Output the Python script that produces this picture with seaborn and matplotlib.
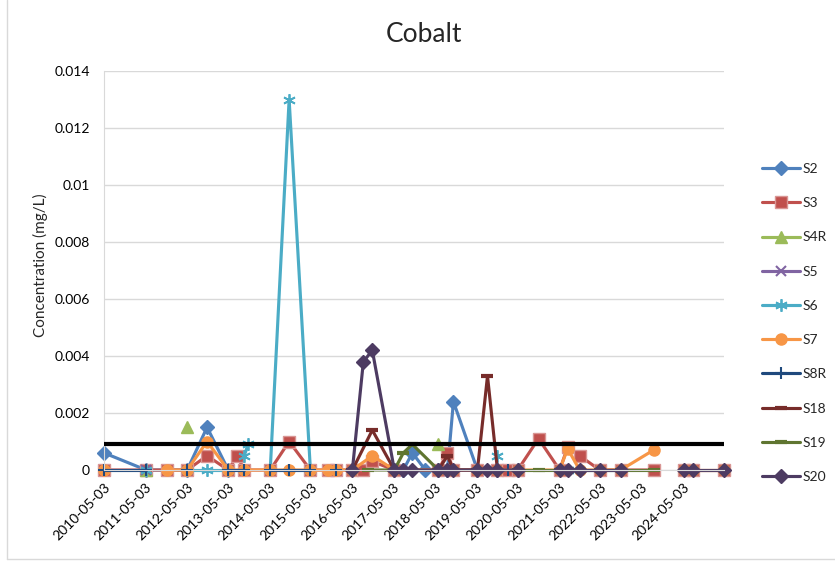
import matplotlib
matplotlib.use("Agg")
import matplotlib.pyplot as plt
import matplotlib.dates as mdates
from matplotlib.lines import Line2D
from matplotlib.ticker import FuncFormatter
import seaborn as sns
import pandas as pd
import numpy as np

# cobalt results (mg/L) per station; a None entry breaks the line (gap in the sheet)
s2_dates = ['2010-05-03', '2011-05-10', '2012-05-07', '2012-10-30', '2013-05-05', None,
            '2017-05-12', '2017-07-30', '2017-10-18', '2018-02-10', '2018-06-05', '2018-08-24',
            '2018-10-16', '2019-05-16', '2019-11-09', '2020-05-06']
s2_conc = [0.0006, 0, 0, 0.0015, 0, None, 0, 0, 0.0006, 0, 0, 0, 0.0024, 0, 0, 0]

s3_dates = ['2010-05-03', '2011-05-10', '2011-11-10', '2012-05-07', '2012-10-30', '2013-05-05',
            '2013-07-23', '2013-09-23', '2014-05-11', '2014-10-25', '2015-05-01', '2015-10-06',
            '2015-12-15', '2016-05-06', '2016-08-11', '2016-10-29', '2017-05-12', '2018-06-05',
            '2018-08-24', '2018-10-16', '2019-05-16', '2019-11-09', '2020-02-14', '2020-05-06',
            '2020-11-06', '2021-05-12', '2021-07-21', '2021-11-04', '2022-05-01', '2022-11-02',
            '2023-08-20', None, '2024-05-14', '2024-08-01', '2025-05-03']
s3_conc = [0, 0, 0, 0, 0.0005, 0, 0.0005, 0, 0, 0.001, 0, 0, 0, 0, 0, 0.0003, 0, 0, 0.0006, 0,
           0, 0, 0, 0, 0.0011, 0, 0.0008, 0.0005, 0, 0, 0, None, 0, 0, 0]

s4r_dates = ['2011-05-10', None, '2012-05-07', None, '2018-06-05']
s4r_conc = [0, None, 0.0015, None, 0.0009]

s5_dates = ['2011-05-10']
s5_conc = [0]

s6_dates = ['2011-05-10', None, '2012-05-07', '2012-10-30', '2013-05-05', None, '2013-09-23',
            '2013-10-28', None, '2014-05-11', '2014-10-25', '2015-05-01', None, '2019-11-09',
            None, '2021-07-21']
s6_conc = [0, None, 0, 0, 0, None, 0.0005, 0.0009, None, 0, 0.013, 0, None, 0.0005, None, 0]

s7_dates = ['2010-05-03', None, '2011-11-10', '2012-05-07', '2012-10-30', '2013-05-05',
            '2013-09-23', '2014-05-11', '2014-10-25', '2015-05-01', '2015-10-06', '2015-12-15',
            '2016-05-06', '2016-10-29', '2017-05-12', '2018-06-05', '2018-10-16', '2019-05-16',
            '2019-11-09', '2020-05-06', '2021-05-12', '2021-07-21', '2021-11-04', '2022-05-01',
            '2022-11-02', '2023-08-20', None, '2024-05-14', '2024-08-01', '2025-05-03']
s7_conc = [0, None, 0, 0, 0.001, 0, 0, 0, 0, 0, 0, 0, 0, 0.0005, 0, 0, 0, 0, 0, 0, 0, 0.00075,
           0, 0, 0, 0.0007, None, 0, 0, 0]

s8r_dates = ['2010-05-03', '2011-05-10', None, '2012-05-07', None, '2013-05-05', '2013-09-23',
             None, '2014-05-11', '2014-10-25', '2015-05-01', None, '2015-12-15', None, '2020-02-14']
s8r_conc = [0, 0, None, 0, None, 0, 0, None, 0, 0, 0, None, 0, None, 0]

s18_dates = ['2016-05-06', '2016-10-29', '2017-05-12', None, '2018-06-05', '2018-08-24',
             '2018-10-16', '2019-05-16', '2019-08-13', '2019-11-09']
s18_conc = [0, 0.0014, 0, None, 0, 0.0005, 0, 0, 0.0033, 0]

s19_dates = ['2016-09-24', '2017-05-12', '2017-07-30', '2017-10-18', '2018-06-05', None,
             '2020-05-06', '2020-11-06', '2021-05-12', '2021-07-21', '2021-11-04', '2022-05-01',
             '2022-11-02', '2023-08-20']
s19_conc = [0, 0, 0.0006, 0.0009, 0, None, 0, 0, 0, 0, 0, 0, 0, 0]

s20_dates = ['2016-05-06', '2016-08-11', '2016-10-29', '2017-05-12', '2017-07-30', '2017-10-18',
             '2018-06-05', '2018-08-24', '2018-10-16', '2019-05-16', '2019-08-13', '2019-11-09',
             '2020-05-06', None, '2021-05-12', '2021-07-21', '2021-11-04', '2022-05-01',
             '2022-11-02', None, '2024-05-14', '2024-08-01', '2025-05-03']
s20_conc = [0, 0.0038, 0.0042, 0, 0, 0, 0, 0, 0, 0, 0, 0, 0, None, 0, 0, 0, 0, 0, None, 0, 0, 0]

guideline = 0.0009
x_start, x_end = '2010-05-03', '2025-05-03'

# station: (dates, values, colour, marker edge colour, marker, size, edge width)
series = {
    'S2': (s2_dates, s2_conc, '#4F81BD', '#4F81BD', 'D', 7, 1),
    'S3': (s3_dates, s3_conc, '#C0504D', '#D99694', 's', 8, 1),
    'S4R': (s4r_dates, s4r_conc, '#9BBB59', '#9BBB59', '^', 8, 1),
    'S5': (s5_dates, s5_conc, '#8064A2', '#8064A2', 'x', 7, 1.5),
    'S6': (s6_dates, s6_conc, '#4BACC6', '#4BACC6', (6, 2, 0), 9, 1.3),
    'S7': (s7_dates, s7_conc, '#F79646', '#F79646', 'o', 8, 1),
    'S8R': (s8r_dates, s8r_conc, '#1F497D', '#1F497D', '+', 9, 1.5),
    'S18': (s18_dates, s18_conc, '#772C2A', '#772C2A', '_', 8, 3),
    'S19': (s19_dates, s19_conc, '#5F7530', '#5F7530', '_', 8, 3),
    'S20': (s20_dates, s20_conc, '#4D3B62', '#4D3B62', 'D', 7, 1),
}

sns.set_style("white")
plt.rcParams['font.family'] = ['Lato', 'DejaVu Sans']

fig = plt.figure(figsize=(8.35, 5.62), dpi=100)
ax = fig.add_axes([104 / 835, 92 / 562, 620 / 835, 399 / 562])

handles = []
for name, (dates, conc, col, edge, mk, ms, mew) in series.items():
    seg = np.cumsum([v is None for v in conc])
    df = pd.DataFrame({'date': pd.to_datetime(dates), 'conc': conc, 'seg': seg}).dropna()
    df['conc'] = df['conc'].astype(float)
    style = dict(color=col, marker=mk, markersize=ms, markeredgewidth=mew,
                 markerfacecolor=col, markeredgecolor=edge, linewidth=2.25)
    sns.lineplot(data=df, x='date', y='conc', units='seg', estimator=None, sort=False,
                 ax=ax, clip_on=False, **style)
    handles.append(Line2D([], [], label=name, **style))

ax.axhline(guideline, color='black', linewidth=3, zorder=10)

ax.set_xlim(pd.Timestamp(x_start), pd.Timestamp(x_end))
ax.set_ylim(0, 0.014)
ax.set_yticks(np.arange(0, 0.0141, 0.002))
ax.yaxis.set_major_formatter(FuncFormatter(lambda v, p: '0' if v == 0 else f'{v:g}'))
ax.set_xticks(pd.date_range('2010-05-03', '2024-05-03', freq=pd.DateOffset(years=1)))
ax.xaxis.set_major_formatter(mdates.DateFormatter('%Y-%m-%d'))
plt.setp(ax.get_xticklabels(), rotation=45, ha='right', rotation_mode='anchor')
ax.tick_params(axis='both', length=0, labelsize=10, colors='black')
ax.tick_params(axis='x', pad=8)
ax.tick_params(axis='y', pad=10)
ax.grid(axis='y', color='#d9d9d9', linewidth=1)
ax.grid(axis='x', visible=False)
for side in ['top', 'right']:
    ax.spines[side].set_visible(False)
for side in ['left', 'bottom']:
    ax.spines[side].set_color('#d9d9d9')
ax.set_xlabel('')
ax.set_ylabel('')

fig.text(40 / 835, 1 - 265 / 562, 'Concentration (mg/L)', rotation=90, ha='center', va='center', fontsize=11)
fig.text(424 / 835, 1 - 35 / 562, 'Cobalt', ha='center', va='center', fontsize=19)

fig.legend(handles=handles, loc='upper left', bbox_to_anchor=(762 / 835, 1 - 163 / 562),
           frameon=False, fontsize=10, handlelength=2.7, handletextpad=0.2,
           labelspacing=1.6, borderpad=0, borderaxespad=0)

fig.add_artist(Line2D([7 / 835, 7 / 835], [3 / 562, 1], color='#d9d9d9', linewidth=1))
fig.add_artist(Line2D([7 / 835, 1], [3 / 562, 3 / 562], color='#d9d9d9', linewidth=1))

plt.savefig('out.png', dpi=100)
